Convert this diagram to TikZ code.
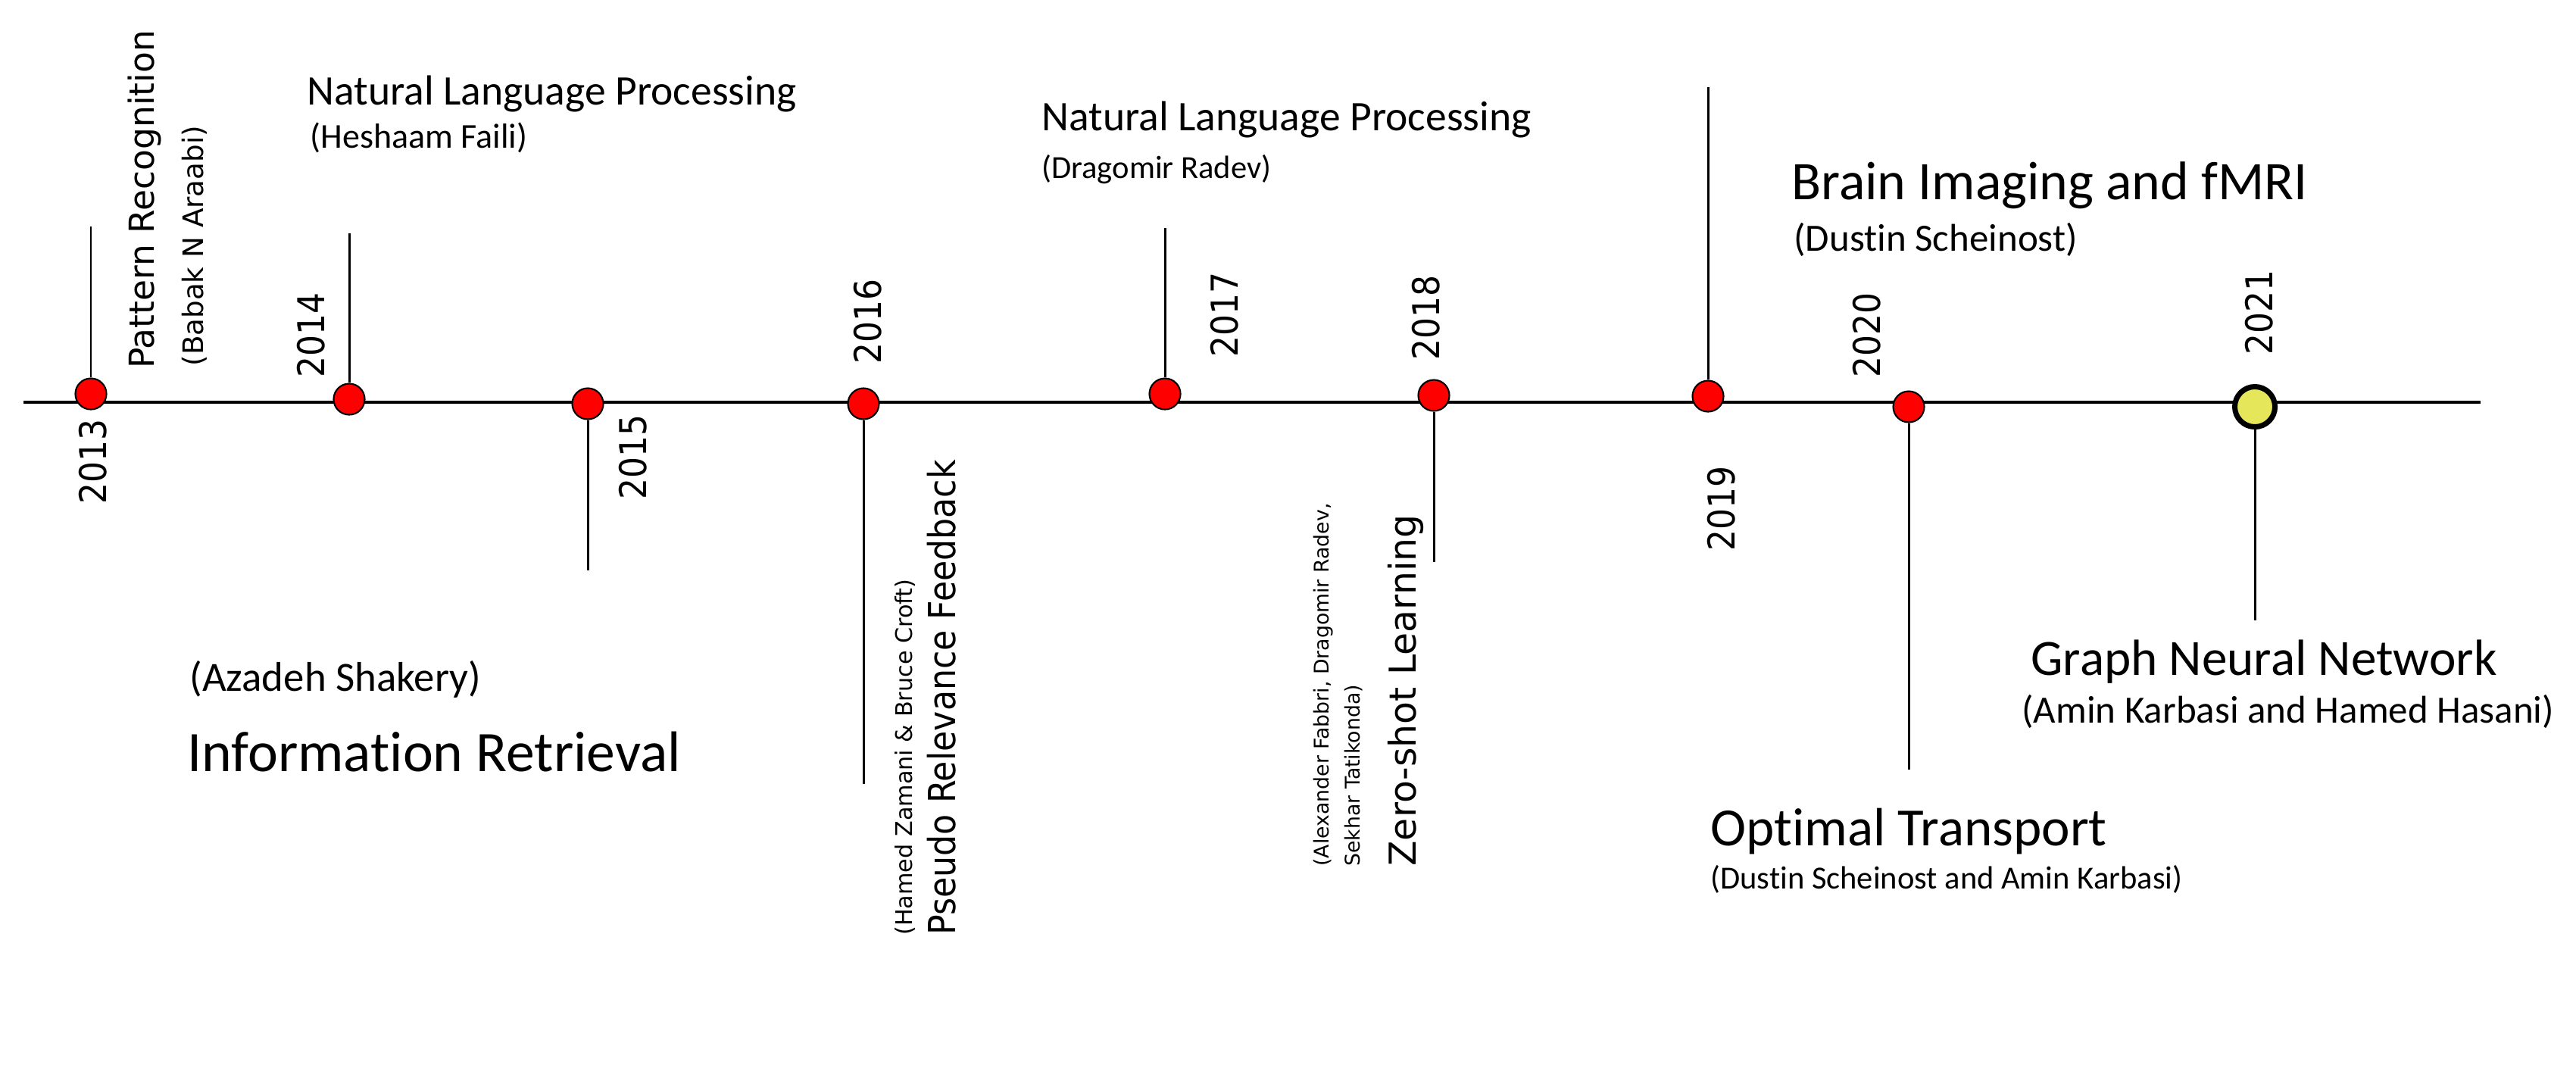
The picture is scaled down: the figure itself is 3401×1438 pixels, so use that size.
\documentclass[tikz,border=0pt]{standalone}
\usepackage{fontspec}
\setmainfont{Carlito}[Ligatures=CommonOff]
\newfontfamily\vfont{DejaVu Sans}
\newfontfamily\vnfont[FakeStretch=0.9]{DejaVu Sans}
\usetikzlibrary{positioning}
\newcommand{\fsz}[1]{\fontsize{#1}{#1}\selectfont}
\definecolor{dotred}{HTML}{FF0000}
\definecolor{dotyellow}{HTML}{E6E65A}
\tikzset{
  every picture/.style={line width=0.85pt},
  axis/.style={line width=1.15pt},
  dot/.style={circle, draw=black, fill=dotred, line width=0.6pt, inner sep=0pt, minimum size=0.41cm},
  lastdot/.style={dot, fill=dotyellow, line width=2pt, minimum size=0.53cm},
  hlabel/.style={anchor=base west, inner sep=0pt, font=\fsz{#1}},
  vlabel/.style={anchor=base west, inner sep=0pt, rotate=90, font={\vfont\fsz{#1}}},
  yearlabel/.style={anchor=base west, inner sep=0pt, rotate=90, font={\vnfont\fsz{#1}}},
}

\begin{document}
\begin{tikzpicture}[x=0.01cm, y=-0.01cm]
    \useasboundingbox (0,0) rectangle (3401,1438);

    % Time axis
    \coordinate (axstart) at (31,531);
    \coordinate (axend) at (3275,531);
    \draw[axis] (axstart) -- (axend);

    % Year markers with their stems
    \foreach \yr/\x/\y/\e/\lx/\ly in {2013/120/520/299/140/667, 2014/461/527/308/428/500,
        2015/776/533/753/853/661, 2016/1140/533/1035/1163/482, 2017/1538/520/301/1634/473,
        2018/1893/522/742/1900/477, 2019/2255/523/115/2290/729, 2020/2520/537/1016/2482/500} {
        \node[dot] (d\yr) at (\x,\y) {};
        \coordinate (s\yr) at (\x,\e);
        \draw (d\yr) -- (s\yr);
        \node[yearlabel=13.9pt] (y\yr) at (\lx,\ly) {\yr};
    }

    % Current year
    \node[lastdot] (d2021) at (2977,537) {};
    \coordinate (s2021) at (2977,819);
    \draw (d2021) -- (s2021);
    \node[yearlabel=13.9pt] (y2021) at (3000,470) {2021};

    % Topics and collaborators
    \node[vlabel=12.95pt] (patrec) at (203,488) {Pattern Recognition};
    \node[vlabel=10.6pt] (araabi) at (268,485) {(Babak N Araabi)};
    \node[hlabel=15.8pt] (nlpa) at (404,138) {Natural Language Processing};
    \node[hlabel=13.1pt] (faili) at (408,195) {(Heshaam Faili)};
    \node[hlabel=15.6pt] (shakery) at (249,912) {(Azadeh Shakery)};
    \node[hlabel=21.5pt] (ir) at (246,1018) {Information Retrieval};
    \node[yearlabel=14pt] (prf) at (1261,1236) {Pseudo Relevance Feedback};
    \node[vlabel=8.6pt] (zamani) at (1204,1236) {(Hamed Zamani \& Bruce Croft)};
    \node[hlabel=15.8pt] (nlpb) at (1374,172) {Natural Language Processing};
    \node[hlabel=12.1pt] (radev) at (1374,235) {(Dragomir Radev)};
    \node[vlabel=7.6pt] (fabbri) at (1754,1145) {(Alexander Fabbri, Dragomir Radev,};
    \node[vlabel=7.6pt] (tatikonda) at (1795,1145) {Sekhar Tatikonda)};
    \node[vlabel=13.9pt] (zsl) at (1869,1145) {Zero-shot Learning};
    \node[hlabel=20.4pt] (brain) at (2364,263) {Brain Imaging and fMRI};
    \node[hlabel=14.5pt] (scheinost) at (2367,331) {(Dustin Scheinost)};
    \node[hlabel=20.2pt] (ot) at (2257,1116) {Optimal Transport};
    \node[hlabel=12.1pt] (schkarb) at (2257,1173) {(Dustin Scheinost and Amin Karbasi)};
    \node[hlabel=19.1pt] (gnn) at (2680,891) {Graph Neural Network};
    \node[hlabel=14.5pt] (karbhas) at (2668,954) {(Amin Karbasi and Hamed Hasani)};
\end{tikzpicture}
\end{document}
